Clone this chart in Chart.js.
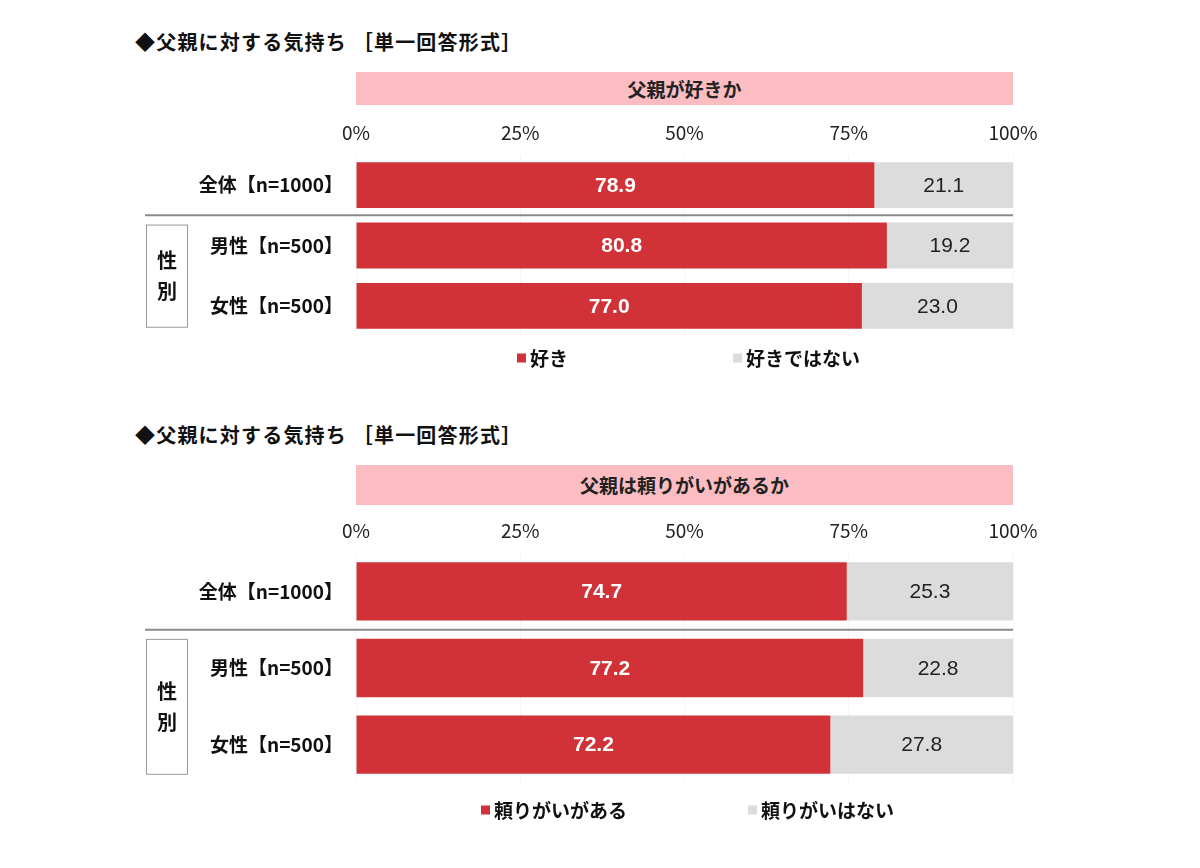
<!DOCTYPE html>
<html>
<head>
<meta charset="utf-8">
<script src="https://cdn.jsdelivr.net/npm/chart.js@4.4.0/dist/chart.umd.min.js"></script>
<style>
  body { margin: 0; background: #fff; width: 1200px; height: 868px; position: relative; overflow: hidden; font-family: "Noto Sans CJK JP", sans-serif; }
  .title { position: absolute; left: 135px; font-size: 20px; letter-spacing: 1.2px; font-weight: bold; color: #111; line-height: 1; white-space: pre; }
  .head { position: absolute; left: 356px; width: 657px; background: #fbbdc1; font-size: 19px; font-weight: bold; text-align: center; color: #222; }
  canvas { position: absolute; left: 0; }
</style>
</head>
<body>
<div class="title" id="t1" style="top:32px"></div>
<div class="head" id="h1" style="top:72px;height:33px;line-height:33px"></div>
<canvas id="c1" width="1200" height="270" style="top:110px"></canvas>

<div class="title" id="t2" style="top:425px"></div>
<div class="head" id="h2" style="top:465px;height:40px;line-height:40px"></div>
<canvas id="c2" width="1200" height="330" style="top:505px"></canvas>

<script>
const categories = ['全体【n=1000】', '男性【n=500】', '女性【n=500】'];
const xTicks = [0, 25, 50, 75, 100];
const chartTitle = '◆父親に対する気持ち ［単一回答形式］';
const genderLabel = ['性', '別'];

// 父親が好きか
const heading1 = '父親が好きか';
const legend1 = ['好き', '好きではない'];
const likeYes = [78.9, 80.8, 77.0];
const likeNo = [21.1, 19.2, 23.0];

// 父親は頼りがいがあるか
const heading2 = '父親は頼りがいがあるか';
const legend2 = ['頼りがいがある', '頼りがいはない'];
const relyYes = [74.7, 77.2, 72.2];
const relyNo = [25.3, 22.8, 27.8];

const RED = '#d03237';
const GRAY = '#dcdcdc';
const JP = '"Noto Sans CJK JP", sans-serif';
const NUM = '"Liberation Sans", Arial, sans-serif';

document.getElementById('t1').textContent = chartTitle;
document.getElementById('t2').textContent = chartTitle;
document.getElementById('h1').textContent = heading1;
document.getElementById('h2').textContent = heading2;

const extras = {
  id: 'extras',
  afterDatasetsDraw(chart) {
    const ctx = chart.ctx;
    ctx.save();
    ctx.textAlign = 'center';
    ctx.textBaseline = 'middle';
    chart.data.datasets.forEach((ds, di) => {
      const meta = chart.getDatasetMeta(di);
      meta.data.forEach((bar, i) => {
        const cx = (bar.base + bar.x) / 2;
        ctx.fillStyle = di === 0 ? '#fff' : '#222';
        ctx.font = (di === 0 ? 'bold ' : '') + '21px ' + NUM;
        ctx.fillText(ds.data[i].toFixed(1), cx, bar.y + 1);
      });
    });
    ctx.restore();
  },
  afterDraw(chart, args, opts) {
    const ctx = chart.ctx;
    const area = chart.chartArea;
    const bars = chart.getDatasetMeta(0).data;
    ctx.save();

    // separator between 全体 and 性別
    const sepY = ((bars[0].y + bars[0].height / 2) + (bars[1].y - bars[1].height / 2)) / 2;
    ctx.strokeStyle = '#8a8a8a';
    ctx.lineWidth = 2;
    ctx.beginPath();
    ctx.moveTo(145, sepY);
    ctx.lineTo(area.right, sepY);
    ctx.stroke();

    // 性別 box
    const top = bars[1].y - bars[1].height / 2 + opts.boxInset;
    const bottom = bars[2].y + bars[2].height / 2 - opts.boxInset;
    ctx.strokeStyle = '#9a9a9a';
    ctx.lineWidth = 1;
    ctx.strokeRect(146.5, top + 0.5, 41, bottom - top);
    ctx.fillStyle = '#111';
    ctx.font = 'bold 20px ' + JP;
    ctx.textAlign = 'center';
    ctx.textBaseline = 'middle';
    const mid = (top + bottom) / 2;
    ctx.fillText(genderLabel[0], 167, mid - 15);
    ctx.fillText(genderLabel[1], 167, mid + 16);

    // legend
    ctx.font = 'bold 19px ' + JP;
    const ly = area.bottom + opts.legendDy;
    ctx.textAlign = 'left';
    chart.data.datasets.forEach((ds, di) => {
      const lx = opts.legendX[di];
      ctx.fillStyle = ds.backgroundColor;
      ctx.fillRect(lx, ly - 4.5, 9, 9);
      ctx.fillStyle = '#111';
      ctx.fillText(ds.label, lx + 13, ly + 1);
    });
    ctx.restore();
  }
};

function makeChart(id, yes, no, labels, axisH, padBottom, extraOpts) {
  return new Chart(document.getElementById(id), {
    type: 'bar',
    data: {
      labels: categories,
      datasets: [
        { label: labels[0], data: yes, backgroundColor: RED, barPercentage: 0.76, categoryPercentage: 1.0 },
        { label: labels[1], data: no, backgroundColor: GRAY, barPercentage: 0.76, categoryPercentage: 1.0 }
      ]
    },
    options: {
      indexAxis: 'y',
      responsive: false,
      animation: false,
      layout: { padding: { top: 0, left: 0, right: 187, bottom: padBottom } },
      plugins: { legend: { display: false }, tooltip: { enabled: false }, extras: extraOpts },
      scales: {
        x: {
          type: 'linear',
          position: 'top',
          stacked: true,
          min: 0,
          max: 100,
          afterBuildTicks: s => { s.ticks = xTicks.map(v => ({ value: v })); },
          afterFit: s => { s.height = axisH; },
          ticks: { callback: v => v + '%', color: '#222', padding: 11, font: { size: 19, family: JP } },
          grid: { color: 'rgba(0,0,0,0.04)', drawTicks: false },
          border: { display: false }
        },
        y: {
          stacked: true,
          afterFit: s => { s.width = 356; },
          ticks: { color: '#111', padding: 5, font: { size: 19, weight: 'bold', family: JP } },
          grid: { display: false },
          border: { display: false }
        }
      }
    },
    plugins: [extras]
  });
}

makeChart('c1', likeYes, likeNo, legend1, 45, 44, { legendX: [517, 733], legendDy: 22, boxInset: 2 });
makeChart('c2', relyYes, relyNo, legend2, 48, 52, { legendX: [481, 748], legendDy: 27, boxInset: 0 });
</script>
</body>
</html>
